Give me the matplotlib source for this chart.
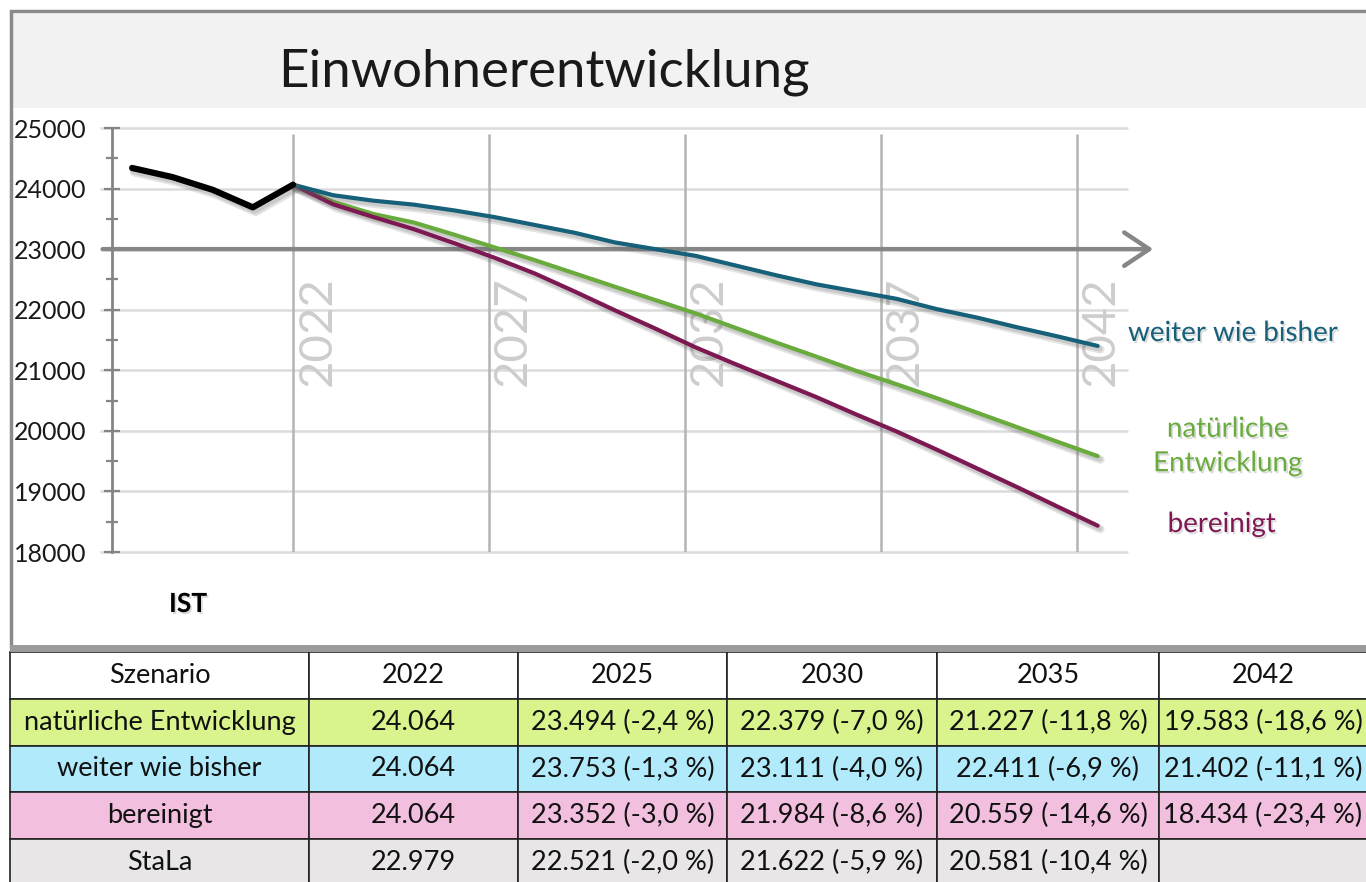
import matplotlib.pyplot as plt
import matplotlib.patheffects as pe
from matplotlib.patches import Rectangle
import numpy as np

plt.rcParams['font.family'] = ['Lato', 'DejaVu Sans']

# --- Daten ---------------------------------------------------------------
ist_jahre = [2018, 2019, 2020, 2021, 2022]
ist_werte = [24340, 24190, 23980, 23690, 24064]

prog_jahre = list(range(2022, 2043))
weiter = [24064, 23890, 23800, 23735, 23640, 23530, 23400, 23270, 23111, 23000, 22890,
          22730, 22570, 22420, 22300, 22180, 22010, 21870, 21710, 21560, 21402]
natuerlich = [24064, 23780, 23580, 23440, 23240, 23030, 22820, 22600, 22379, 22160, 21940,
              21700, 21460, 21227, 20990, 20770, 20540, 20300, 20060, 19820, 19583]
bereinigt = [24064, 23740, 23530, 23330, 23100, 22860, 22600, 22300, 21990, 21690, 21380,
             21100, 20830, 20559, 20270, 19990, 19690, 19380, 19070, 18750, 18434]

marken_jahre = ['2022', '2027', '2032', '2037', '2042']

tab_kopf = ['Szenario', '2022', '2025', '2030', '2035', '2042']
tab_zeilen = [
    ['natürliche Entwicklung', '24.064', '23.494 (-2,4 %)', '22.379 (-7,0 %)', '21.227 (-11,8 %)', '19.583 (-18,6 %)'],
    ['weiter wie bisher', '24.064', '23.753 (-1,3 %)', '23.111 (-4,0 %)', '22.411 (-6,9 %)', '21.402 (-11,1 %)'],
    ['bereinigt', '24.064', '23.352 (-3,0 %)', '21.984 (-8,6 %)', '20.559 (-14,6 %)', '18.434 (-23,4 %)'],
    ['StaLa', '22.979', '22.521 (-2,0 %)', '21.622 (-5,9 %)', '20.581 (-10,4 %)', ''],
]
tab_farben = ['#ffffff', '#d9f48c', '#b0eafb', '#f3bfdf', '#e8e6e6']

c_weiter = '#17607a'
c_nat = '#6aab3e'
c_ber = '#7d1852'

W, H = 1366, 882
fig = plt.figure(figsize=(W / 100, H / 100), dpi=100)


def fx(x):
    return x / W


def fy(y):
    return 1 - y / H


# Rahmen und Titelband
fig.patches.append(Rectangle((fx(12), fy(108)), fx(1360), fy(14) - fy(108), transform=fig.transFigure,
                             facecolor='#f2f2f2', edgecolor='none', zorder=0))
fig.patches.append(Rectangle((fx(11), fy(648)), fx(1370), fy(11) - fy(648), transform=fig.transFigure,
                             facecolor='none', edgecolor='#8a8a8a', lw=2.5, zorder=1))
fig.patches.append(Rectangle((fx(10), fy(652)), fx(1366), fy(645) - fy(652), transform=fig.transFigure,
                             facecolor='#9a9a9a', edgecolor='none', zorder=1))
fig.text(fx(544), fy(72), 'Einwohnerentwicklung', fontsize=38, fontweight='normal',
         ha='center', va='center', color='#1a1a1a')

# --- Diagramm ------------------------------------------------------------
ax = fig.add_axes([fx(112), fy(552), fx(1158 - 112), fy(128) - fy(552)])
ax.set_xlim(2017.5, 2043.5)
ax.set_ylim(18000, 25000)
ax.patch.set_alpha(0)
for s in ['top', 'right', 'bottom']:
    ax.spines[s].set_visible(False)
ax.spines['left'].set_color('#858585')
ax.spines['left'].set_linewidth(2)
ax.set_yticks(np.arange(18000, 25001, 1000))
ax.set_yticks(np.arange(18500, 25000, 1000), minor=True)
ax.tick_params(axis='y', which='major', direction='inout', length=11, width=1.6, color='#858585',
               labelsize=18, pad=13, labelcolor='#1a1a1a')
ax.tick_params(axis='y', which='minor', direction='inout', length=9, width=1.6, color='#858585')
ax.set_xticks([])

# horizontale Gitterlinien
ax.hlines(np.arange(18000, 25001, 1000), 2017.2, 2042.75, color='#dcdcdc', lw=1.8,
          zorder=0, clip_on=False)

# senkrechte Hilfslinien mit Jahresbeschriftung (Abstand wie im Original knapp unter 5 Jahren)
marken_pos = 2022 + np.arange(len(marken_jahre)) * 4.87
ax.vlines(marken_pos, 18000, 24900, color='#b4b4b4', lw=1.8, zorder=1)
for xp, lab in zip(marken_pos, marken_jahre):
    ax.text(xp + 0.08, 21640, lab, rotation=90, fontsize=34, fontweight='normal',
            color='#cdcdcd', ha='left', va='center', zorder=1)

# Achsenpfeil bei 23000
ax.annotate('', xy=(2043.45, 23000), xytext=(2017.2, 23000), annotation_clip=False,
            arrowprops=dict(arrowstyle='->,head_length=0.9,head_width=0.6', color='#868686',
                            lw=3.2, mutation_scale=20), zorder=2)


def schatten(w):
    return [pe.SimpleLineShadow(offset=(2, -2.5), shadow_color='#666666', alpha=0.18, linewidth=w + 3),
            pe.SimpleLineShadow(offset=(1.5, -2), shadow_color='#666666', alpha=0.2, linewidth=w + 1),
            pe.Normal()]


ax.plot(ist_jahre, ist_werte, color='black', lw=4.5, solid_capstyle='round', solid_joinstyle='round',
        path_effects=schatten(4.5), zorder=5)
ax.plot(prog_jahre, natuerlich, color=c_nat, lw=3, solid_capstyle='round', solid_joinstyle='round',
        path_effects=schatten(3), zorder=4)
ax.plot(prog_jahre, bereinigt, color=c_ber, lw=3, solid_capstyle='round', solid_joinstyle='round',
        path_effects=schatten(3), zorder=4)
ax.plot(prog_jahre, weiter, color=c_weiter, lw=3, solid_capstyle='round', solid_joinstyle='round',
        path_effects=schatten(3), zorder=4)

txt_schatten = [pe.SimplePatchShadow(offset=(1.2, -1.5), shadow_rgbFace='#999999', alpha=0.35), pe.Normal()]
fig.text(fx(1128), fy(333), 'weiter wie bisher', fontsize=20, color=c_weiter, ha='left', va='center',
         path_effects=txt_schatten)
fig.text(fx(1228), fy(446), 'natürliche\nEntwicklung', fontsize=20, color=c_nat, ha='center', va='center',
         linespacing=1.4, path_effects=txt_schatten)
fig.text(fx(1222), fy(524), 'bereinigt', fontsize=20, color=c_ber, ha='center', va='center',
         path_effects=txt_schatten)
fig.text(fx(188), fy(604), 'IST', fontsize=19, fontweight='bold', color='black', ha='center', va='center',
         path_effects=txt_schatten)

# --- Tabelle -------------------------------------------------------------
tab_unten = 652 + 5 * 46.8
tx = fig.add_axes([fx(10), fy(tab_unten), fx(1367 - 10), fy(652) - fy(tab_unten)])
tx.axis('off')
breiten = np.array([299, 209, 209, 210, 222, 208], dtype=float)
zellen = [tab_kopf] + tab_zeilen
farben = [[f] * len(tab_kopf) for f in tab_farben]
tab = tx.table(cellText=zellen, cellColours=farben, colWidths=list(breiten / breiten.sum()),
               cellLoc='center', bbox=[0, 0, 1, 1])
tab.auto_set_font_size(False)
tab.set_fontsize(19.5)
for (r, c), cell in tab.get_celld().items():
    cell.set_edgecolor('#222222')
    cell.set_linewidth(1.2)
    cell.get_text().set_color('#111111')

fig.savefig('out.png', dpi=100)
